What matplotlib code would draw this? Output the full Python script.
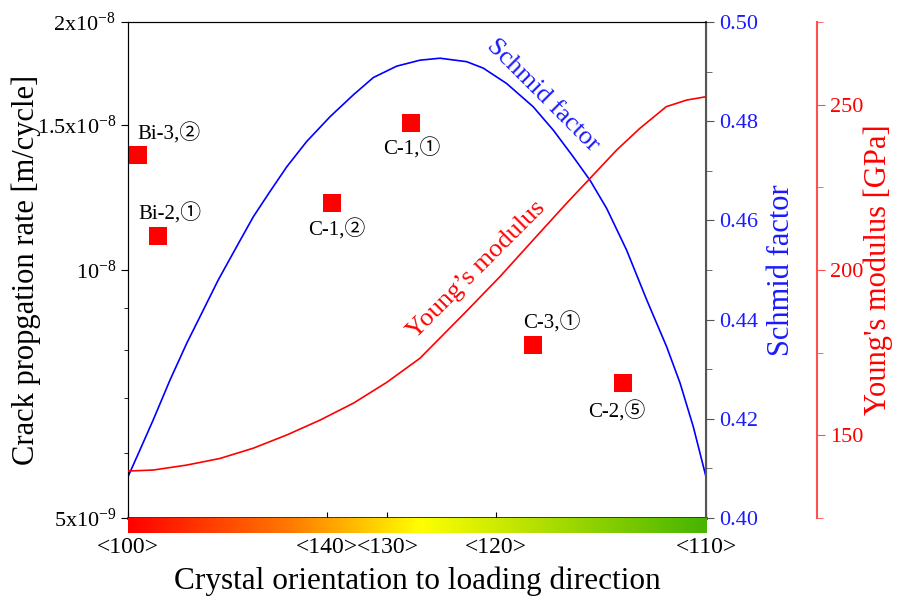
import matplotlib
matplotlib.use('Agg')
import matplotlib.pyplot as plt
import numpy as np
from matplotlib.colors import LinearSegmentedColormap

plt.rcParams['font.family'] = ['Liberation Serif', 'Noto Sans CJK JP']
plt.rcParams['mathtext.fontset'] = 'custom'
plt.rcParams['mathtext.rm'] = 'Liberation Serif'

# orientation coordinate (0 = <100>, 45 = <110>)
orient_ticks = [0, 15.5, 20.2, 28.65, 45]
orient_labels = ['<100>', '<140>', '<130>', '<120>', '<110>']

# crack propagation rate of each specimen
spec_names = ['Bi-3,②', 'Bi-2,①', 'C-1,②', 'C-1,①', 'C-3,①', 'C-2,⑤']
spec_x = [0.8, 2.3, 15.9, 22.0, 31.5, 38.5]
spec_rate = [1.38e-8, 1.10e-8, 1.205e-8, 1.51e-8, 8.1e-9, 7.3e-9]

# Schmid factor curve
sf_x = [0, 0.93, 1.97, 3.27, 4.57, 5.86, 7.03, 8.46, 9.75, 11.05, 12.36, 13.91,
        15.73, 17.54, 19.1, 20.92, 22.73, 24.29, 26.37, 27.66, 29.48, 31.55,
        33.11, 34.67, 35.97, 37.27, 38.82, 40.38, 41.94, 42.98, 44.01, 45]
sf_y = [0.4083, 0.4137, 0.4198, 0.4278, 0.4352, 0.4419, 0.4480, 0.4547, 0.4607,
        0.4658, 0.4708, 0.4759, 0.4809, 0.4853, 0.4888, 0.4911, 0.4923, 0.4927,
        0.4920, 0.4907, 0.4876, 0.4829, 0.4782, 0.4728, 0.4681, 0.4624, 0.4540,
        0.4440, 0.4345, 0.4272, 0.4184, 0.4083]

# Young's modulus curve
ym_x = [0, 1.97, 4.57, 7.16, 9.75, 12.36, 14.95, 17.54, 20.14, 22.73,
        26.37, 28.96, 31.55, 34.15, 35.97, 38.05, 39.84, 41.91, 43.5, 45]
ym_y = [139.2, 139.5, 141.0, 143.0, 146.1, 150.1, 154.6, 159.7, 166.0, 173.3,
        187.6, 198.0, 209.1, 220.2, 227.7, 236.3, 242.8, 249.4, 251.4, 252.4]

rate_ticks = [5e-9, 1e-8, 1.5e-8, 2e-8]
rate_labels = [r'$\mathregular{5x10^{-9}}$', r'$\mathregular{10^{-8}}$',
               r'$\mathregular{1.5x10^{-8}}$', r'$\mathregular{2x10^{-8}}$']
rate_minor = [6e-9, 7e-9, 8e-9, 9e-9]

# orientation colour bar
bar_colors = [(0.0, '#ff0000'), (0.28, '#ff7a00'), (0.505, '#ffff00'), (1.0, '#46b400')]

fig = plt.figure(figsize=(8.98, 5.98), dpi=100)
ax = fig.add_axes([0.1425, 0.1338, 0.6437, 0.8294])

ax.plot(spec_x, spec_rate, 's', color='#ff0000', markersize=13, markeredgewidth=0, zorder=3)
offsets = [(22, 15), (9, 16), (3, -19), (1, -19), (14, 16), (-4, -21)]
for name, x, y, off in zip(spec_names, spec_x, spec_rate, offsets):
    ax.annotate(name, (x, y), xytext=off, textcoords='offset points',
                ha='center', va='center', fontsize=15,
                family=['Liberation Serif', 'Noto Sans CJK JP'])

ax.set_yscale('log')
ax.set_xlim(0, 45)
ax.set_ylim(5e-9, 2e-8)
ax.set_yticks(rate_ticks)
ax.set_yticklabels(rate_labels)
ax.set_yticks(rate_minor, minor=True)
ax.yaxis.set_minor_formatter(plt.NullFormatter())
ax.tick_params(axis='y', which='major', direction='out', length=5, labelsize=16)
ax.tick_params(axis='y', which='minor', direction='out', length=3)
ax.set_xticks(orient_ticks)
ax.set_xticklabels(orient_labels)
ax.tick_params(axis='x', direction='in', length=4, pad=14, labelsize=17)
ax.spines['bottom'].set_linewidth(1.8)
ax.set_ylabel('Crack propgation rate [m/cycle]', fontsize=22, labelpad=-3)
ax.set_xlabel('Crystal orientation to loading direction', fontsize=22.5, labelpad=6)

# Schmid factor axis
ax2 = ax.twinx()
ax2.plot(sf_x, sf_y, color='#0000ff', lw=1.2)
ax2.set_ylim(0.40, 0.50)
ax2.set_yticks(np.arange(0.40, 0.501, 0.02))
ax2.set_yticks(np.arange(0.41, 0.50, 0.02), minor=True)
ax2.set_yticklabels(['0.40', '0.42', '0.44', '0.46', '0.48', '0.50'])
ax2.tick_params(axis='y', which='major', direction='out', length=6, labelsize=16,
                colors='#555555', labelcolor='#1a1aff')
ax2.tick_params(axis='y', which='minor', direction='out', length=4, colors='#555555')
ax2.spines['right'].set_color('#555555')
ax2.spines['right'].set_linewidth(1.5)
ax2.set_ylabel('Schmid factor', fontsize=22, color='#1a1aff', labelpad=6)
ax2.text(32.3, 0.4853, 'Schmid factor', color='#1a1aff', fontsize=19,
         rotation=-45, ha='center', va='center', rotation_mode='anchor')

# Young's modulus axis
ax3 = ax.twinx()
ax3.spines['right'].set_position(('outward', 80))
for s in ['top', 'bottom', 'left']:
    ax3.spines[s].set_visible(False)
ax3.plot(ym_x, ym_y, color='#ff0000', lw=1.2)
ax3.set_ylim(125, 275)
ax3.set_yticks([150, 200, 250])
ax3.set_yticks([125, 175, 225, 275], minor=True)
ax3.tick_params(axis='y', which='major', direction='out', length=6, labelsize=16,
                colors='#ff5050', labelcolor='#ff0000')
ax3.tick_params(axis='y', which='minor', direction='out', length=4, colors='#ff5050')
ax3.spines['right'].set_color('#ff5050')
ax3.spines['right'].set_linewidth(1.5)
ax3.set_ylabel("Young's modulus [GPa]", fontsize=22, color='#ff0000')
ax3.yaxis.set_label_coords(1.2976, 0.5)
ax3.yaxis.label.set_verticalalignment('center')
ax3.text(27.1, 200, 'Young’s modulus', color='#ff0000', fontsize=19,
         rotation=45, ha='center', va='center', rotation_mode='anchor')

# colour bar under the x axis
cax = fig.add_axes([0.1425, 0.1087, 0.6437, 0.0251])
cmap = LinearSegmentedColormap.from_list('orient', bar_colors)
cax.imshow(np.linspace(0, 1, 256)[None, :], aspect='auto', cmap=cmap)
cax.axis('off')

fig.savefig('out.png', dpi=100)
